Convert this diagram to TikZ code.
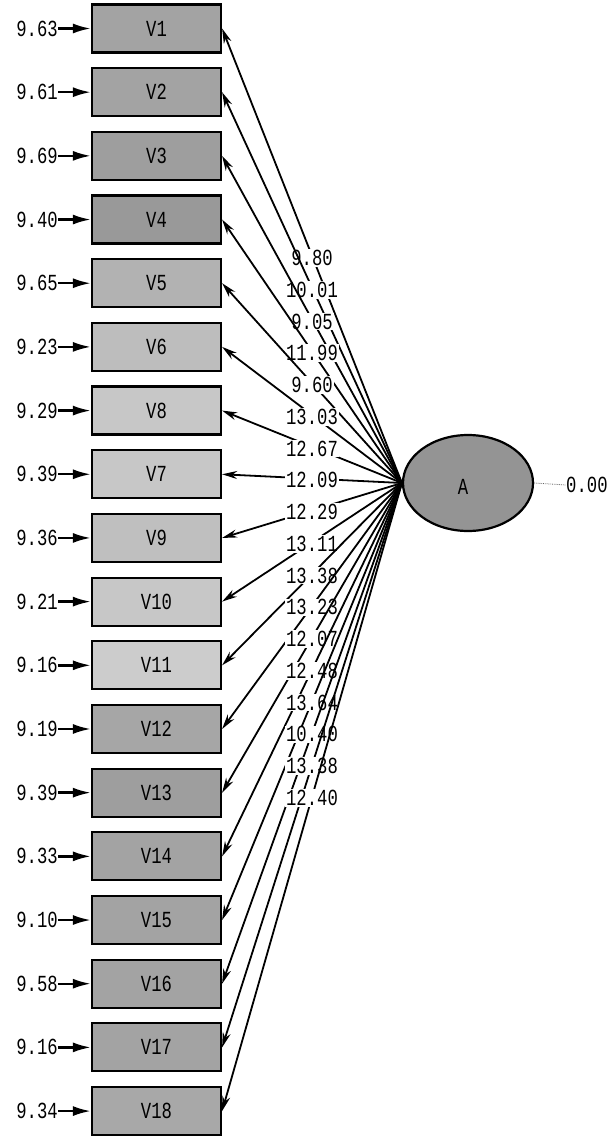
\documentclass[tikz,border=0pt]{standalone}
\usepackage{fontspec}
\newfontfamily\diagfont[FakeStretch=0.75]{Liberation Mono}
\usetikzlibrary{arrows.meta,shapes.geometric}
\begin{document}
\begin{tikzpicture}[x=1pt,y=-1pt,
  txt/.style={font=\diagfont\fontsize{23}{23}\selectfont},
  varbox/.style={txt, draw, line width=2.2pt, minimum width=129pt,
    minimum height=48pt, inner sep=0pt},
  errlbl/.style={txt, anchor=east, inner sep=0pt},
  errarrow/.style={line width=2.4pt, -{Latex[length=18pt,width=10pt]}},
  ldlbl/.style={txt, fill=white, inner sep=1pt},
  patharrow/.style={line width=1.8pt, -{Stealth[length=15pt,width=8pt]}},
  latent/.style={txt, ellipse, draw, line width=2.2pt, fill=black!42,
    minimum width=130pt, minimum height=96pt, inner sep=0pt}]
\useasboundingbox (0,0) rectangle (614,1137);
\fill[white] (0,0) rectangle (614,1137);

% observed variables with their error variances
\foreach \nm/\shade/\err [count=\i] in {
  V1/36/9.63, V2/36/9.61, V3/38/9.69, V4/40/9.40, V5/30/9.65,
  V6/26/9.23, V8/22/9.29, V7/22/9.39, V9/25/9.36, V10/22/9.21,
  V11/20/9.16, V12/35/9.19, V13/38/9.39, V14/36/9.33, V15/36/9.10,
  V16/36/9.58, V17/36/9.16, V18/34/9.34} {
  \pgfmathsetmacro\yy{28.5+63.68*(\i-1)}
  \node[varbox, fill=black!\shade] (v\i) at (156.5,\yy) {\nm};
  \node[errlbl] (e\i) at (58,\yy) {\err};
  \draw[errarrow] (e\i.east) -- (v\i.west);
}

% latent factor
\node[latent] (A) at (468,483) {};
\node[txt, inner sep=0pt] (Alabel) at (463,487) {A};
\node[txt, anchor=west, inner sep=0pt] (zero) at (566,485) {0.00};
\draw[black!60, line width=0.8pt, densely dotted] (A.east) -- (zero.west);

% loadings
\foreach \ld [count=\i] in {9.80, 10.01, 9.05, 11.99, 9.60, 13.03, 12.67,
  12.09, 12.29, 13.11, 13.38, 13.23, 12.07, 12.48, 13.64, 10.40, 13.38, 12.40} {
  \pgfmathsetmacro\ly{258+31.76*(\i-1)}
  \draw[patharrow] (A.west) -- (v\i.east);
  \node[ldlbl] (l\i) at (312,\ly) {\ld};
}
\end{tikzpicture}
\end{document}
